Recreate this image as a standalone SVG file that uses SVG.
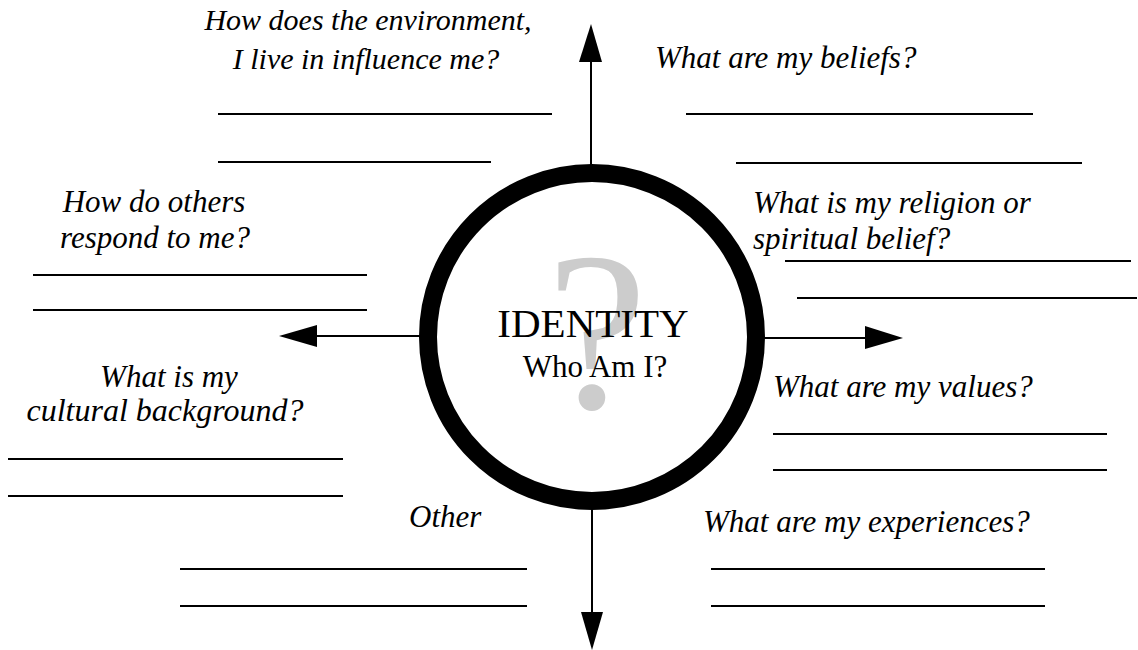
<svg xmlns="http://www.w3.org/2000/svg" width="1138" height="650" viewBox="0 0 1138 650">
<style>
.q{font-family:"Liberation Serif","Times New Roman",serif;font-style:italic;font-size:31px;fill:#000}
.c{text-anchor:middle}
.blank{stroke:#000;stroke-width:2;fill:none}
.conn{stroke:#000;stroke-width:2;fill:none}
.head{fill:#000;stroke:none}
</style>
<rect width="1138" height="650" fill="#fff"/>
<g id="center">
<text x="597" y="408" text-anchor="middle" font-family="Liberation Serif,serif" font-size="226" fill="#cccccc">?</text>
<circle cx="592" cy="337" r="164" fill="none" stroke="#000" stroke-width="18"/>
<text x="593" y="337" text-anchor="middle" font-family="Liberation Serif,serif" font-size="41">IDENTITY</text>
<text x="595" y="377" text-anchor="middle" font-family="Liberation Serif,serif" font-size="31">Who Am I?</text>
</g>
<g id="connectors">
<line class="conn" x1="591" y1="60" x2="591" y2="166"/>
<polygon class="head" points="591,24 602,62 579,62"/>
<line class="conn" x1="315" y1="336" x2="420" y2="336"/>
<polygon class="head" points="279,336 317,325 317,347"/>
<line class="conn" x1="762" y1="338" x2="867" y2="338"/>
<polygon class="head" points="903,338 865,326 865,349"/>
<line class="conn" x1="592" y1="508" x2="592" y2="614"/>
<polygon class="head" points="592,650 581,612 603,612"/>
</g>
<g id="environment">
<text class="q c" x="368" y="30" font-size="30" style="font-size:30px">How does the environment,</text>
<text class="q c" x="366" y="69" style="font-size:30px">I live in influence me?</text>
<line class="blank" x1="218" y1="114" x2="552" y2="114"/>
<line class="blank" x1="218" y1="162" x2="491" y2="162"/>
</g>
<g id="beliefs">
<text class="q" x="655" y="68">What are my beliefs?</text>
<line class="blank" x1="686" y1="114" x2="1033" y2="114"/>
<line class="blank" x1="736" y1="163" x2="1082" y2="163"/>
</g>
<g id="religion">
<text class="q" x="753" y="213">What is my religion or</text>
<text class="q" x="753" y="249">spiritual belief?</text>
<line class="blank" x1="785" y1="261" x2="1131" y2="261"/>
<line class="blank" x1="797" y1="298" x2="1137" y2="298"/>
</g>
<g id="others">
<text class="q c" x="154" y="212">How do others</text>
<text class="q c" x="155" y="248">respond to me?</text>
<line class="blank" x1="33" y1="275" x2="367" y2="275"/>
<line class="blank" x1="33" y1="310" x2="367" y2="310"/>
</g>
<g id="values">
<text class="q" x="773" y="397">What are my values?</text>
<line class="blank" x1="773" y1="434" x2="1107" y2="434"/>
<line class="blank" x1="773" y1="470" x2="1107" y2="470"/>
</g>
<g id="cultural">
<text class="q c" x="169" y="387">What is my</text>
<text class="q c" x="165" y="421" style="font-size:32px">cultural background?</text>
<line class="blank" x1="8" y1="459" x2="343" y2="459"/>
<line class="blank" x1="8" y1="496" x2="343" y2="496"/>
</g>
<g id="other">
<text class="q" x="409" y="527">Other</text>
<line class="blank" x1="180" y1="569" x2="527" y2="569"/>
<line class="blank" x1="180" y1="606" x2="527" y2="606"/>
</g>
<g id="experiences">
<text class="q" x="703" y="532">What are my experiences?</text>
<line class="blank" x1="711" y1="569" x2="1045" y2="569"/>
<line class="blank" x1="711" y1="606" x2="1045" y2="606"/>
</g>
</svg>
